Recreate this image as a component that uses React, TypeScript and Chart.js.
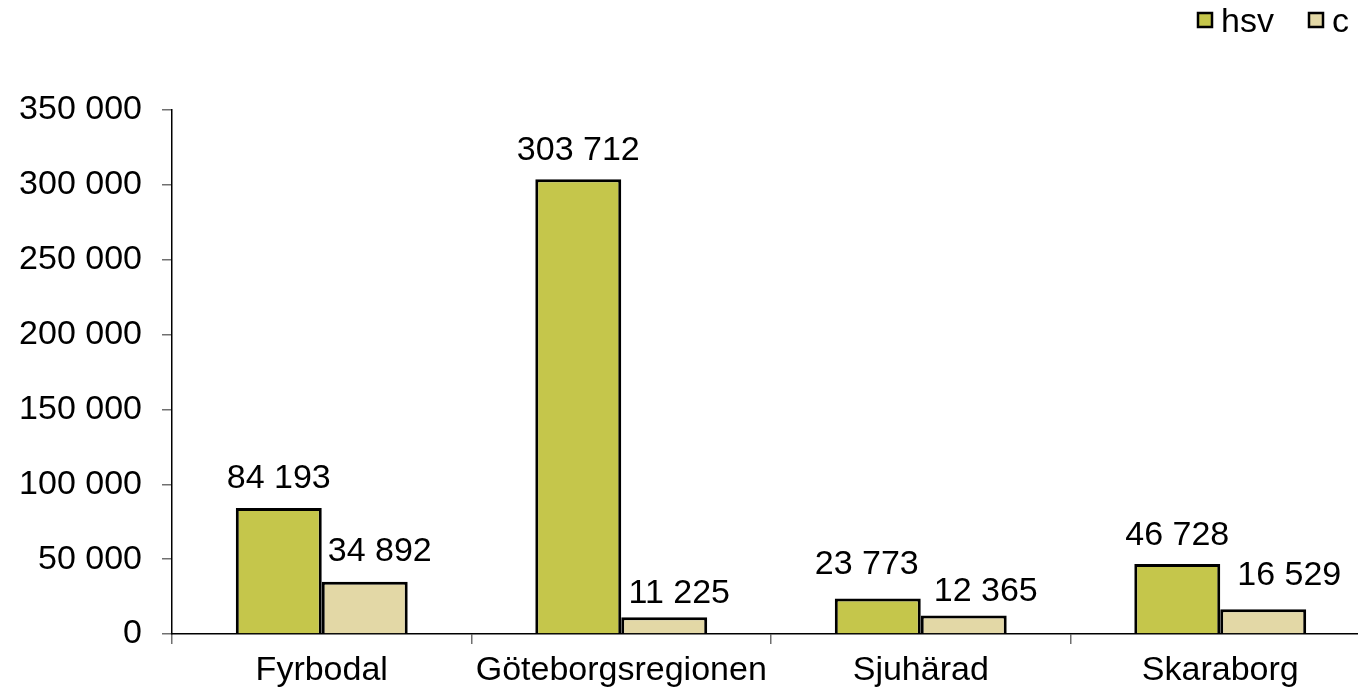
import React, { useEffect, useRef } from "react";
import { Chart, registerables } from "chart.js";

Chart.register(...registerables);

const categories = ["Fyrbodal", "Göteborgsregionen", "Sjuhärad", "Skaraborg"];
const seriesNames = ["hsv", "c"];
const hsvValues = [84193, 303712, 23773, 46728];
const cValues = [34892, 11225, 12365, 16529];
const seriesColors = ["#C5C64B", "#E3D8A6"];
const yMin = 0;
const yMax = 350000;
const yStep = 50000;

// value-label placement tweaks (pixels) per series, as in the original
const labelShiftX = [
  [0, 0, -11, 0],
  [15, 15, 22, 26],
];
const labelGapY = [
  [20, 19, 24, 19],
  [21, 14, 14, 24],
];

const FONT = "'Liberation Sans', Arial, sans-serif";
const FONT_SIZE = 34;

const fmt = (v: number) => String(Math.round(v)).replace(/\B(?=(\d{3})+(?!\d))/g, " ");

const labelPlugin = {
  id: "valueLabels",
  afterDatasetsDraw(chart: any) {
    const ctx = chart.ctx;
    ctx.save();
    ctx.font = `${FONT_SIZE}px ${FONT}`;
    ctx.fillStyle = "#000";
    ctx.textAlign = "center";
    ctx.textBaseline = "alphabetic";
    chart.data.datasets.forEach((ds: any, di: number) => {
      const meta = chart.getDatasetMeta(di);
      meta.data.forEach((bar: any, i: number) => {
        ctx.fillText(fmt(ds.data[i]), bar.x + labelShiftX[di][i], bar.y - labelGapY[di][i]);
      });
    });
    ctx.restore();
  },
};

const legendPlugin = {
  id: "customLegend",
  afterDraw(chart: any) {
    const ctx = chart.ctx;
    ctx.save();
    ctx.font = `${FONT_SIZE}px ${FONT}`;
    ctx.textBaseline = "alphabetic";
    ctx.textAlign = "left";
    const positions = [1198, 1309];
    chart.data.datasets.forEach((ds: any, di: number) => {
      const x = positions[di];
      const y = 13;
      ctx.fillStyle = ds.backgroundColor;
      ctx.fillRect(x, y, 14, 14);
      ctx.lineWidth = 2.5;
      ctx.strokeStyle = "#000";
      ctx.strokeRect(x, y, 14, 14);
      ctx.fillStyle = "#000";
      ctx.fillText(ds.label, x + 23, 32);
    });
    ctx.restore();
  },
};

export default function App() {
  const ref = useRef<HTMLCanvasElement>(null);
  useEffect(() => {
    document.body.style.margin = "0";
    const chart = new Chart(ref.current!, {
      type: "bar",
      data: {
        labels: categories,
        datasets: [
          {
            label: seriesNames[0],
            data: hsvValues,
            backgroundColor: seriesColors[0],
            borderColor: "#000",
            borderWidth: 3,
            categoryPercentage: 0.574,
            barPercentage: 1,
          },
          {
            label: seriesNames[1],
            data: cValues,
            backgroundColor: seriesColors[1],
            borderColor: "#000",
            borderWidth: 3,
            categoryPercentage: 0.574,
            barPercentage: 1,
          },
        ],
      },
      options: {
        responsive: false,
        animation: false,
        devicePixelRatio: 1,
        layout: { padding: { top: 110, right: 2, left: 0, bottom: 0 } },
        plugins: {
          legend: { display: false },
          tooltip: { enabled: false },
        },
        scales: {
          x: {
            grid: {
              offset: true,
              drawOnChartArea: false,
              drawTicks: true,
              tickLength: 10,
              color: "#707070",
              lineWidth: 1.5,
            },
            border: { color: "#000", width: 1.5 },
            ticks: {
              color: "#000",
              font: { family: FONT, size: FONT_SIZE },
              padding: 6,
              maxRotation: 0,
              autoSkip: false,
            },
            afterFit(scale: any) {
              scale.height = 60;
            },
          },
          y: {
            min: yMin,
            max: yMax,
            grid: {
              drawOnChartArea: false,
              drawTicks: true,
              tickLength: 10,
              color: "#707070",
              lineWidth: 1.5,
            },
            border: { color: "#000", width: 1.5 },
            ticks: {
              stepSize: yStep,
              color: "#000",
              font: { family: FONT, size: FONT_SIZE },
              padding: 20,
              callback: (v: any) => fmt(Number(v)),
            },
            afterFit(scale: any) {
              scale.width = 172;
            },
          },
        },
      },
      plugins: [labelPlugin, legendPlugin],
    });
    return () => chart.destroy();
  }, []);
  return (
    <div style={{ width: 1358, height: 694, overflow: "hidden", background: "#fff" }}>
      <canvas ref={ref} width={1372} height={694} style={{ display: "block" }} />
    </div>
  );
}
